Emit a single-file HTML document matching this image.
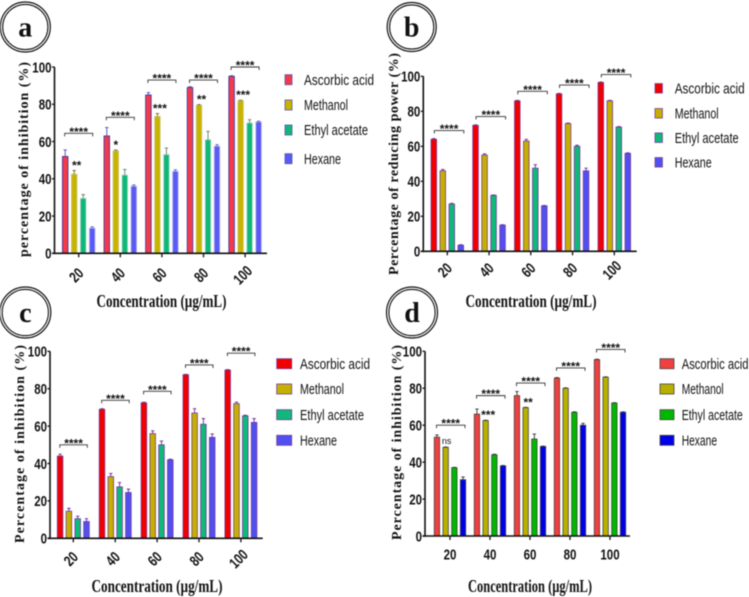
<!DOCTYPE html>
<html lang="en">
<head>
<meta charset="utf-8">
<title>Four bar chart panels</title>
<style>
html,body{margin:0;padding:0;background:#fff;}
body{width:749px;height:597px;overflow:hidden;}
svg{display:block;filter:blur(0.4px);}
text{fill:#111;}
</style>
</head>
<body>
<svg id="figure" xmlns="http://www.w3.org/2000/svg" width="749" height="597" viewBox="0 0 749 597"></svg>
<script>
const categories = ['20', '40', '60', '80', '100'];
const seriesNames = ['Ascorbic acid', 'Methanol', 'Ethyl acetate', 'Hexane'];
const yTickValues = [0, 20, 40, 60, 80, 100];

const aAscorbic = [52, 63, 85, 89, 95];
const aMethanol = [42.5, 55, 73.5, 79.5, 82];
const aEthyl = [29.5, 42, 53, 61, 70];
const aHexane = [13.5, 36, 44, 57.5, 70.5];
const aAscorbicErr = [3.5, 4.5, 1.3, 0.4, 0.3];
const aMethanolErr = [2, 0.4, 1.5, 0.3, 0.2];
const aEthylErr = [2, 3, 3.5, 4.5, 1.7];
const aHexaneErr = [0.7, 0.7, 0.8, 0.8, 0.4];
const aBracketLevels = [64.4, 73, 93, 93, 100];
const aMarkers = ['**', '*', '***', '**', '***'];

const bAscorbic = [64, 72, 86, 90, 96.5];
const bMethanol = [46, 55, 63, 73, 86];
const bEthyl = [27, 32, 47.5, 60, 71];
const bHexane = [3.5, 15, 26, 46, 56];
const bAscorbicErr = [0.4, 0.3, 0.3, 0.3, 0.3];
const bMethanolErr = [0.8, 0.7, 1, 0.3, 0.3];
const bEthylErr = [0.4, 0.2, 2, 0.6, 0.3];
const bHexaneErr = [0.3, 0.2, 0.2, 1.5, 0.3];
const bBracketLevels = [69, 77, 91.4, 95, 101];
const bMarkers = ['', '', '', '', ''];

const cAscorbic = [44, 69, 72.5, 87.5, 90];
const cMethanol = [14.5, 33, 56, 67, 72];
const cEthyl = [10.5, 27.5, 50, 61, 65.5];
const cHexane = [9, 24.5, 42, 54, 62];
const cAscorbicErr = [1, 0.3, 0.3, 0.2, 0.2];
const cMethanolErr = [1.5, 1.7, 1.5, 2.3, 0.8];
const cEthylErr = [1.3, 2.3, 2, 3, 0.3];
const cHexaneErr = [1.5, 1.8, 0.3, 1.8, 2];
const cBracketLevels = [50, 73.8, 78.6, 92.7, 99];
const cMarkers = ['', '', '', '', ''];

const dAscorbic = [53.5, 66, 76, 85.5, 95.5];
const dMethanol = [48, 62.5, 69.5, 80, 86];
const dEthyl = [37, 44, 52.5, 67, 72];
const dHexane = [30.5, 38, 48.5, 60, 67];
const dAscorbicErr = [1.2, 2.7, 2.2, 0.3, 0.2];
const dMethanolErr = [0.2, 0.2, 0.2, 0.2, 0.2];
const dEthylErr = [0.2, 0.3, 2.7, 0.2, 0.2];
const dHexaneErr = [1.5, 0.2, 0.2, 1, 0.2];
const dBracketLevels = [60, 76, 82.8, 91, 101];
const dMarkers = ['ns', '***', '**', '', ''];

const panels = [
  {id:'a', values:[aAscorbic,aMethanol,aEthyl,aHexane], errors:[aAscorbicErr,aMethanolErr,aEthylErr,aHexaneErr], brackets:aBracketLevels, markers:aMarkers,
   axisX:54.5, axisEnd:267, top:67, bottom:253.3, firstTick:78.7, step:41.6, gap:9, barW:5.6, bl:-14, br:14, rotate:true, tickY:275,
   colors:['#f23b4a','#c8b400','#10b878','#5a5af5'], border:['#3333a8','#c9c98c','#b5d8cc','#b9b9ee'], err:['#4a4ab0','#6a6a30','#6a7a60','#5a5ab0'],
   swX:285, swW:7, swH:10, legX:304, legYs:[79.7,105,130,158.7], legScale:1, legBorder:'#5555b0',
   circle:[25.3,27,25], yTitle:'percentage of inhibition (%)', yTitleX:28, yTitleMid:159.5, yTitleLen:195, xTitleX:161.5, xTitleY:307, xTitleLen:130},
  {id:'b', values:[bAscorbic,bMethanol,bEthyl,bHexane], errors:[bAscorbicErr,bMethanolErr,bEthylErr,bHexaneErr], brackets:bBracketLevels, markers:bMarkers,
   axisX:423.3, axisEnd:636.7, top:76.3, bottom:251.3, firstTick:447.3, step:41.75, gap:9, barW:5.6, bl:-13, br:16.5, rotate:true, tickY:270,
   colors:['#f00000','#c4b000','#10b87a','#5050f0'], border:['#7a3a9a','#7a3a9a','#7a3a9a','#7a3a9a'], err:['#6a2a9a','#6a2a9a','#6a2a9a','#6a2a9a'],
   swX:655, swW:7.4, swH:9.5, legX:674.7, legYs:[88.3,113.3,137.7,162.3], legScale:1, legBorder:'#7a3a9a',
   circle:[411.7,27,24.5], yTitle:'Percentage of reducing power (%)', yTitleX:398, yTitleMid:164, yTitleLen:222, xTitleX:531,  xTitleY:307, xTitleLen:131},
  {id:'c', values:[cAscorbic,cMethanol,cEthyl,cHexane], errors:[cAscorbicErr,cMethanolErr,cEthylErr,cHexaneErr], brackets:cBracketLevels, markers:cMarkers,
   axisX:50, axisEnd:262.7, top:351.3, bottom:538.3, firstTick:73.3, step:41.9, gap:8.8, barW:5.6, bl:-13.5, br:14, rotate:true, tickY:558.7,
   colors:['#f00000','#c4b000','#10b87a','#5050f0'], border:['#7a3a9a','#7a3a9a','#7a3a9a','#7a3a9a'], err:['#6a2a9a','#6a2a9a','#6a2a9a','#6a2a9a'],
   swX:276.7, swW:15, swH:10, legX:300, legYs:[363.7,389,414.7,440.3], legScale:1, legBorder:'#7a3a9a',
   circle:[25.3,312.5,25.5], yTitle:'Percentage of inhibition (%)', yTitleX:24, yTitleMid:444, yTitleLen:198, xTitleX:157, xTitleY:592, xTitleLen:131},
  {id:'d', values:[dAscorbic,dMethanol,dEthyl,dHexane], errors:[dAscorbicErr,dMethanolErr,dEthylErr,dHexaneErr], brackets:dBracketLevels, markers:dMarkers,
   axisX:425, axisEnd:630, top:351.3, bottom:536, firstTick:450, step:40, gap:8.7, barW:5.4, bl:-13.5, br:15, rotate:false, tickY:554,
   colors:['#f04040','#b8b000','#00b800','#0000e8'], border:['#444','#444','#444','#444'], err:['#333','#333','#333','#333'],
   swX:660, swW:14, swH:10, legX:681.7, legYs:[363.7,389,414.7,440.3], legScale:0.955, legBorder:'#444',
   circle:[412,312.5,25.5], yTitle:'Percentage of inhibition (%)', yTitleX:401, yTitleMid:442.5, yTitleLen:195, xTitleX:530, xTitleY:592, xTitleLen:124}
];

const legendWidths = [70, 44, 64, 37];
const NS = 'http://www.w3.org/2000/svg';
const svg = document.getElementById('figure');

function make(tag, attrs, parent) {
  const el = document.createElementNS(NS, tag);
  for (const k in attrs) el.setAttribute(k, attrs[k]);
  parent.appendChild(el);
  return el;
}
function yScale(p, v) { return p.bottom - (p.bottom - p.top) * v / 100; }
function xScale(p, groupIndex) { return p.firstTick + p.step * groupIndex; }
function barCenter(p, groupIndex, seriesIndex) { return xScale(p, groupIndex) + (seriesIndex - 1.5) * p.gap; }
const sansTick = 'font-family:"Liberation Sans",Arial,sans-serif;font-weight:bold;font-size:15px;';
const serifBold = 'font-family:"Liberation Serif","Times New Roman",serif;font-weight:bold;';

panels.forEach(function (p) {
  const g = make('g', {}, svg);
  
  

  // panel letter badge
  const badge = make('g', {}, g);
  
  
  make('circle', {cx:p.circle[0], cy:p.circle[1], r:p.circle[2], fill:'#fff', stroke:'#111', 'stroke-width':1.2}, badge);
  make('circle', {cx:p.circle[0], cy:p.circle[1], r:p.circle[2] - 2.4, fill:'none', stroke:'#111', 'stroke-width':1.1}, badge);
  const letter = make('text', {x:p.circle[0], y:p.circle[1] + 9.5, 'text-anchor':'middle', style:serifBold + 'font-size:28px;'}, badge);
  letter.textContent = p.id;

  // bars and error bars
  p.values.forEach(function (series, s) {
    series.forEach(function (v, i) {
      const cx = barCenter(p, i, s);
      const y = yScale(p, v);
      const bar = make('rect', {x:cx - p.barW / 2, y:y, width:p.barW, height:p.bottom - y, fill:p.colors[s], stroke:p.border[s], 'stroke-width':0.8}, g);
      
      
      const yErr = yScale(p, v + p.errors[s][i]);
      const err = make('path', {d:'M' + cx + ' ' + y + 'V' + yErr + 'M' + (cx - 1.7) + ' ' + yErr + 'H' + (cx + 1.7), fill:'none', stroke:p.err[s], 'stroke-width':0.9}, g);
      
      
    });
  });

  // axes
  const yAxis = make('line', {x1:p.axisX, x2:p.axisX, y1:p.top, y2:p.bottom + 0.8, stroke:'#111', 'stroke-width':1.6}, g);
  
  
  const xAxis = make('line', {x1:p.axisX - 2.5, x2:p.axisEnd, y1:p.bottom, y2:p.bottom, stroke:'#111', 'stroke-width':1.6}, g);
  
  

  yTickValues.forEach(function (t) {
    const y = yScale(p, t);
    make('line', {x1:p.axisX - 2.5, x2:p.axisX, y1:y, y2:y, stroke:'#111', 'stroke-width':1.3}, g);
    const lab = make('text', {x:p.axisX - 3, y:y + 5.3, 'text-anchor':'end', textLength:String(t).length * 6.4, lengthAdjust:'spacingAndGlyphs', style:sansTick}, g);
    lab.textContent = String(t);
    
    
  });

  categories.forEach(function (c, i) {
    const x = xScale(p, i);
    make('line', {x1:x, x2:x, y1:p.bottom, y2:p.bottom + 4, stroke:'#111', 'stroke-width':1.3}, g);
    const lx = p.rotate ? x - 2.5 : x;
    const lab = make('text', {x:lx, y:p.tickY + 5.3, 'text-anchor':'middle', textLength:c.length * 6.4, lengthAdjust:'spacingAndGlyphs', style:sansTick}, g);
    if (p.rotate) lab.setAttribute('transform', 'rotate(-45 ' + lx + ' ' + p.tickY + ')');
    lab.textContent = c;
    
    

    // significance bracket
    const by = yScale(p, p.brackets[i]);
    const bracket = make('path', {d:'M' + (x + p.bl) + ' ' + (by + 3) + 'V' + by + 'H' + (x + p.br) + 'V' + (by + 3), fill:'none', stroke:'#333', 'stroke-width':0.9}, g);
    
    
    const stars = make('text', {x:x + (p.bl + p.br) / 2, y:by + 2.5, 'text-anchor':'middle', style:'font-family:"Liberation Sans",Arial,sans-serif;font-weight:bold;font-size:12px;'}, g);
    stars.textContent = '****';
    
    

    // per-bar marker above methanol
    if (p.markers[i]) {
      const mx = barCenter(p, i, 1) + 2;
      const my = yScale(p, p.values[1][i] + p.errors[1][i]);
      const isNs = p.markers[i] === 'ns';
      const marker = make('text', {x:isNs ? mx - 1 : mx + (p.markers[i].length > 1 ? 0.5 : -2), y:isNs ? my - 3 : my - 1, 'text-anchor':'middle', style:'font-family:"Liberation Sans",Arial,sans-serif;font-size:' + (isNs ? 9 : 12) + 'px;' + (isNs ? '' : 'font-weight:bold;')}, g);
      marker.textContent = p.markers[i];
      
      
    }
  });

  // axis titles
  const yt = make('text', {x:p.yTitleX, y:p.yTitleMid, 'text-anchor':'middle', textLength:p.yTitleLen, transform:'rotate(-90 ' + p.yTitleX + ' ' + p.yTitleMid + ')', style:serifBold + 'font-size:14px;'}, g);
  yt.textContent = p.yTitle;
  
  
  const xt = make('text', {x:p.xTitleX, y:p.xTitleY, 'text-anchor':'middle', textLength:p.xTitleLen, lengthAdjust:'spacingAndGlyphs', style:serifBold + 'font-size:18px;'}, g);
  xt.textContent = 'Concentration (\u00B5g/mL)';
  
  

  // legend
  seriesNames.forEach(function (name, s) {
    const ly = p.legYs[s];
    const sw = make('rect', {x:p.swX, y:ly - p.swH / 2, width:p.swW, height:p.swH, fill:p.colors[s], stroke:p.legBorder, 'stroke-width':0.8}, g);
    
    
    const lt = make('text', {x:p.legX, y:ly + 5.2, textLength:legendWidths[s] * p.legScale, lengthAdjust:'spacingAndGlyphs', style:'font-family:"Liberation Sans",Arial,sans-serif;font-size:15px;'}, g);
    lt.textContent = name;
    
    
  });
});
</script>
</body>
</html>
